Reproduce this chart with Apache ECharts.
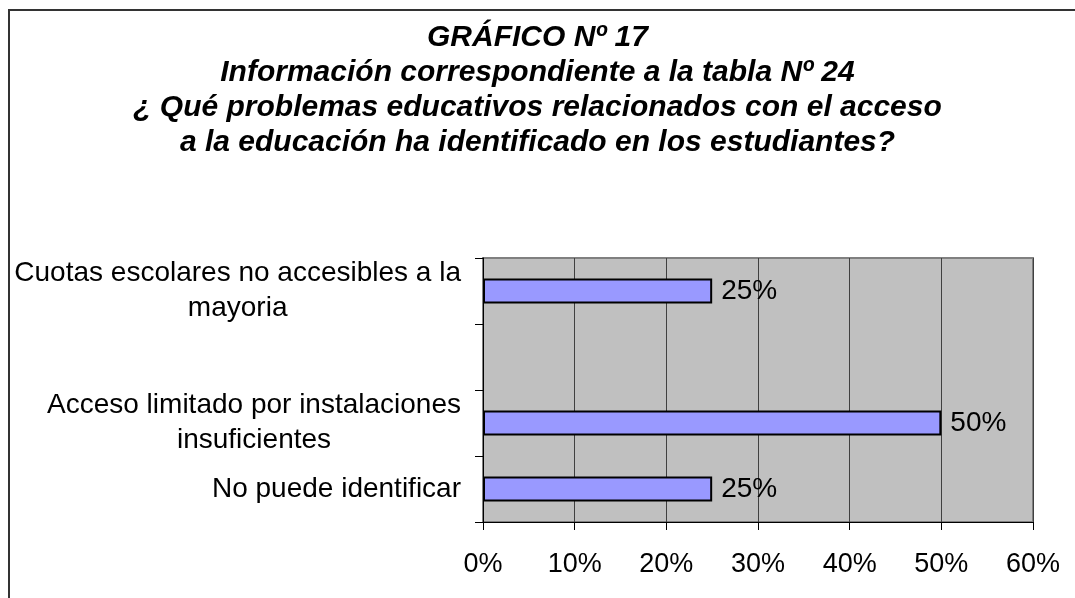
<!DOCTYPE html>
<html>
<head>
<meta charset="utf-8">
<script src="https://cdn.jsdelivr.net/npm/echarts@6/dist/echarts.min.js"></script>
<style>
  html, body { margin: 0; padding: 0; background: #fff; }
  #chart { width: 1075px; height: 598px; }
</style>
</head>
<body>
<div id="chart"></div>
<script>
// categorias de arriba hacia abajo (la segunda esta vacia en el original)
const categorias = [
  'Cuotas escolares no accesibles a la\nmayoria',
  '',
  'Acceso limitado por instalaciones\ninsuficientes',
  'No puede identificar'
];
const porcentajes = [25, null, 50, 25];
const ejeMax = 60;
const ejeIntervalo = 10;

const tituloLineas = [
  'GRÁFICO Nº 17',
  'Información correspondiente a la tabla Nº 24',
  '¿ Qué problemas educativos relacionados con el acceso',
  'a la educación ha identificado en los estudiantes?'
];

const fuente = '"Liberation Sans", Arial, sans-serif';

let myChart = echarts.init(document.getElementById('chart'));
let option = {
  backgroundColor: '#ffffff',
  animation: false,
  title: {
    text: tituloLineas.join('\n'),
    left: 'center',
    top: 15,
    textStyle: {
      fontFamily: fuente,
      fontSize: 30,
      fontWeight: 'bold',
      fontStyle: 'italic',
      color: '#000',
      lineHeight: 35
    }
  },
  graphic: [{
    type: 'rect',
    shape: { x: 9, y: 10, width: 1100, height: 700 },
    style: { fill: 'none', stroke: '#333', lineWidth: 2 },
    silent: true
  }],
  grid: {
    left: 483,
    right: 42,
    top: 258,
    bottom: 76,
    show: true,
    backgroundColor: '#C0C0C0',
    borderColor: '#808080',
    borderWidth: 2
  },
  xAxis: {
    type: 'value',
    min: 0,
    max: ejeMax,
    interval: ejeIntervalo,
    axisLine: { show: true, lineStyle: { color: '#000', width: 1 } },
    axisTick: { show: true, length: 8, lineStyle: { color: '#000' } },
    splitLine: { show: true, lineStyle: { color: '#404040', width: 1 } },
    axisLabel: {
      formatter: '{value}%',
      fontFamily: fuente,
      fontSize: 27,
      color: '#000',
      margin: 29
    }
  },
  yAxis: {
    type: 'category',
    data: categorias,
    inverse: true,
    axisLine: { show: true, lineStyle: { color: '#000', width: 1 } },
    axisTick: { show: true, length: 8, lineStyle: { color: '#000' } },
    splitLine: { show: false },
    axisLabel: {
      margin: 22,
      formatter: function (v) {
        return v.split('\n').map(function (l) { return '{c|' + l + '}'; }).join('\n');
      },
      rich: {
        c: {
          align: 'center',
          fontFamily: fuente,
          fontSize: 28,
          lineHeight: 35,
          color: '#000'
        }
      }
    }
  },
  series: [{
    type: 'bar',
    data: porcentajes,
    barWidth: 25,
    itemStyle: { color: '#9999FF', borderColor: '#000', borderWidth: 2 },
    label: {
      show: true,
      position: 'right',
      distance: 9,
      formatter: function (p) { return p.value == null ? '' : p.value + '%'; },
      fontFamily: fuente,
      fontSize: 28,
      color: '#000'
    }
  }]
};
myChart.setOption(option);
</script>
</body>
</html>
